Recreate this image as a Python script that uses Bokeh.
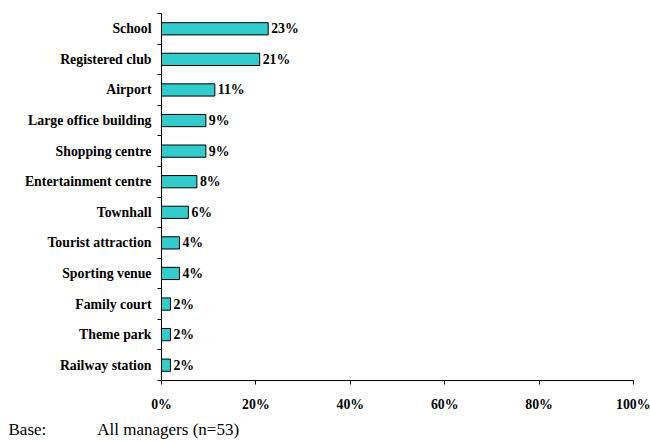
from bokeh.plotting import figure
from bokeh.models import Range1d, FixedTicker, ColumnDataSource, LabelSet, Title
from bokeh.embed import file_html
from bokeh.resources import INLINE

categories = ["School", "Registered club", "Airport", "Large office building",
              "Shopping centre", "Entertainment centre", "Townhall",
              "Tourist attraction", "Sporting venue", "Family court",
              "Theme park", "Railway station"]
values = [22.6, 20.8, 11.3, 9.4, 9.4, 7.5, 5.7, 3.8, 3.8, 1.9, 1.9, 1.9]
value_labels = ["23%", "21%", "11%", "9%", "9%", "8%", "6%", "4%", "4%", "2%", "2%", "2%"]
x_ticks = [0, 20, 40, 60, 80, 100]
x_tick_labels = ["0%", "20%", "40%", "60%", "80%", "100%"]
base_label = "Base:"
base_text = "All managers (n=53)"

FONT = "Liberation Serif"
n = len(categories)
ypos = list(range(n - 1, -1, -1))  # first category at top

src = ColumnDataSource(dict(cat=categories, val=values, y=ypos, lab=value_labels))

p = figure(width=650, height=441, output_backend="svg", toolbar_location=None,
           x_range=Range1d(0, 100), y_range=Range1d(-0.5, n - 0.5),
           min_border_left=161, min_border_right=17, min_border_top=13,
           min_border_bottom=61, background_fill_color="white",
           border_fill_color="white")
p.outline_line_color = None
p.grid.visible = False

p.hbar(y="y", right="val", left=0, height=0.4, source=src,
       fill_color="#33CCCC", line_color="black", line_width=1)

labels = LabelSet(x="val", y="y", text="lab", source=src, x_offset=3,
                  text_baseline="middle", text_font=FONT,
                  text_font_size="13.8px", text_font_style="bold",
                  text_color="black")
p.add_layout(labels)

# x axis
xa = p.xaxis[0]
xa.ticker = FixedTicker(ticks=x_ticks)
xa.major_label_overrides = {t: l for t, l in zip(x_ticks, x_tick_labels)}
xa.major_tick_in = 0
xa.major_tick_out = 4
xa.minor_tick_line_color = None
xa.major_label_standoff = 12
xa.major_label_text_font = FONT
xa.major_label_text_font_size = "13.8px"
xa.major_label_text_font_style = "bold"
xa.major_label_text_color = "black"
xa.axis_line_color = "black"
xa.major_tick_line_color = "black"

# y axis
ya = p.yaxis[0]
bounds = [i - 0.5 for i in range(n + 1)]
ya.ticker = FixedTicker(ticks=ypos, minor_ticks=bounds)
ya.major_label_overrides = {y: c for y, c in zip(ypos, categories)}
ya.major_tick_line_color = None
ya.major_tick_in = 0
ya.major_tick_out = 0
ya.minor_tick_in = 0
ya.minor_tick_out = 4
ya.minor_tick_line_color = "black"
ya.major_label_standoff = 6
ya.major_label_text_font = FONT
ya.major_label_text_font_size = "13.8px"
ya.major_label_text_font_style = "bold"
ya.major_label_text_color = "black"
ya.axis_line_color = "black"

footer = base_label + "\u00a0" * 12 + base_text
p.add_layout(Title(text=footer, align="left", offset=-153, standoff=6,
                   vertical_align="bottom",
                   text_font=FONT, text_font_size="17px",
                   text_font_style="normal", text_color="black"), "below")

open("out.html", "w").write(file_html(p, INLINE))
